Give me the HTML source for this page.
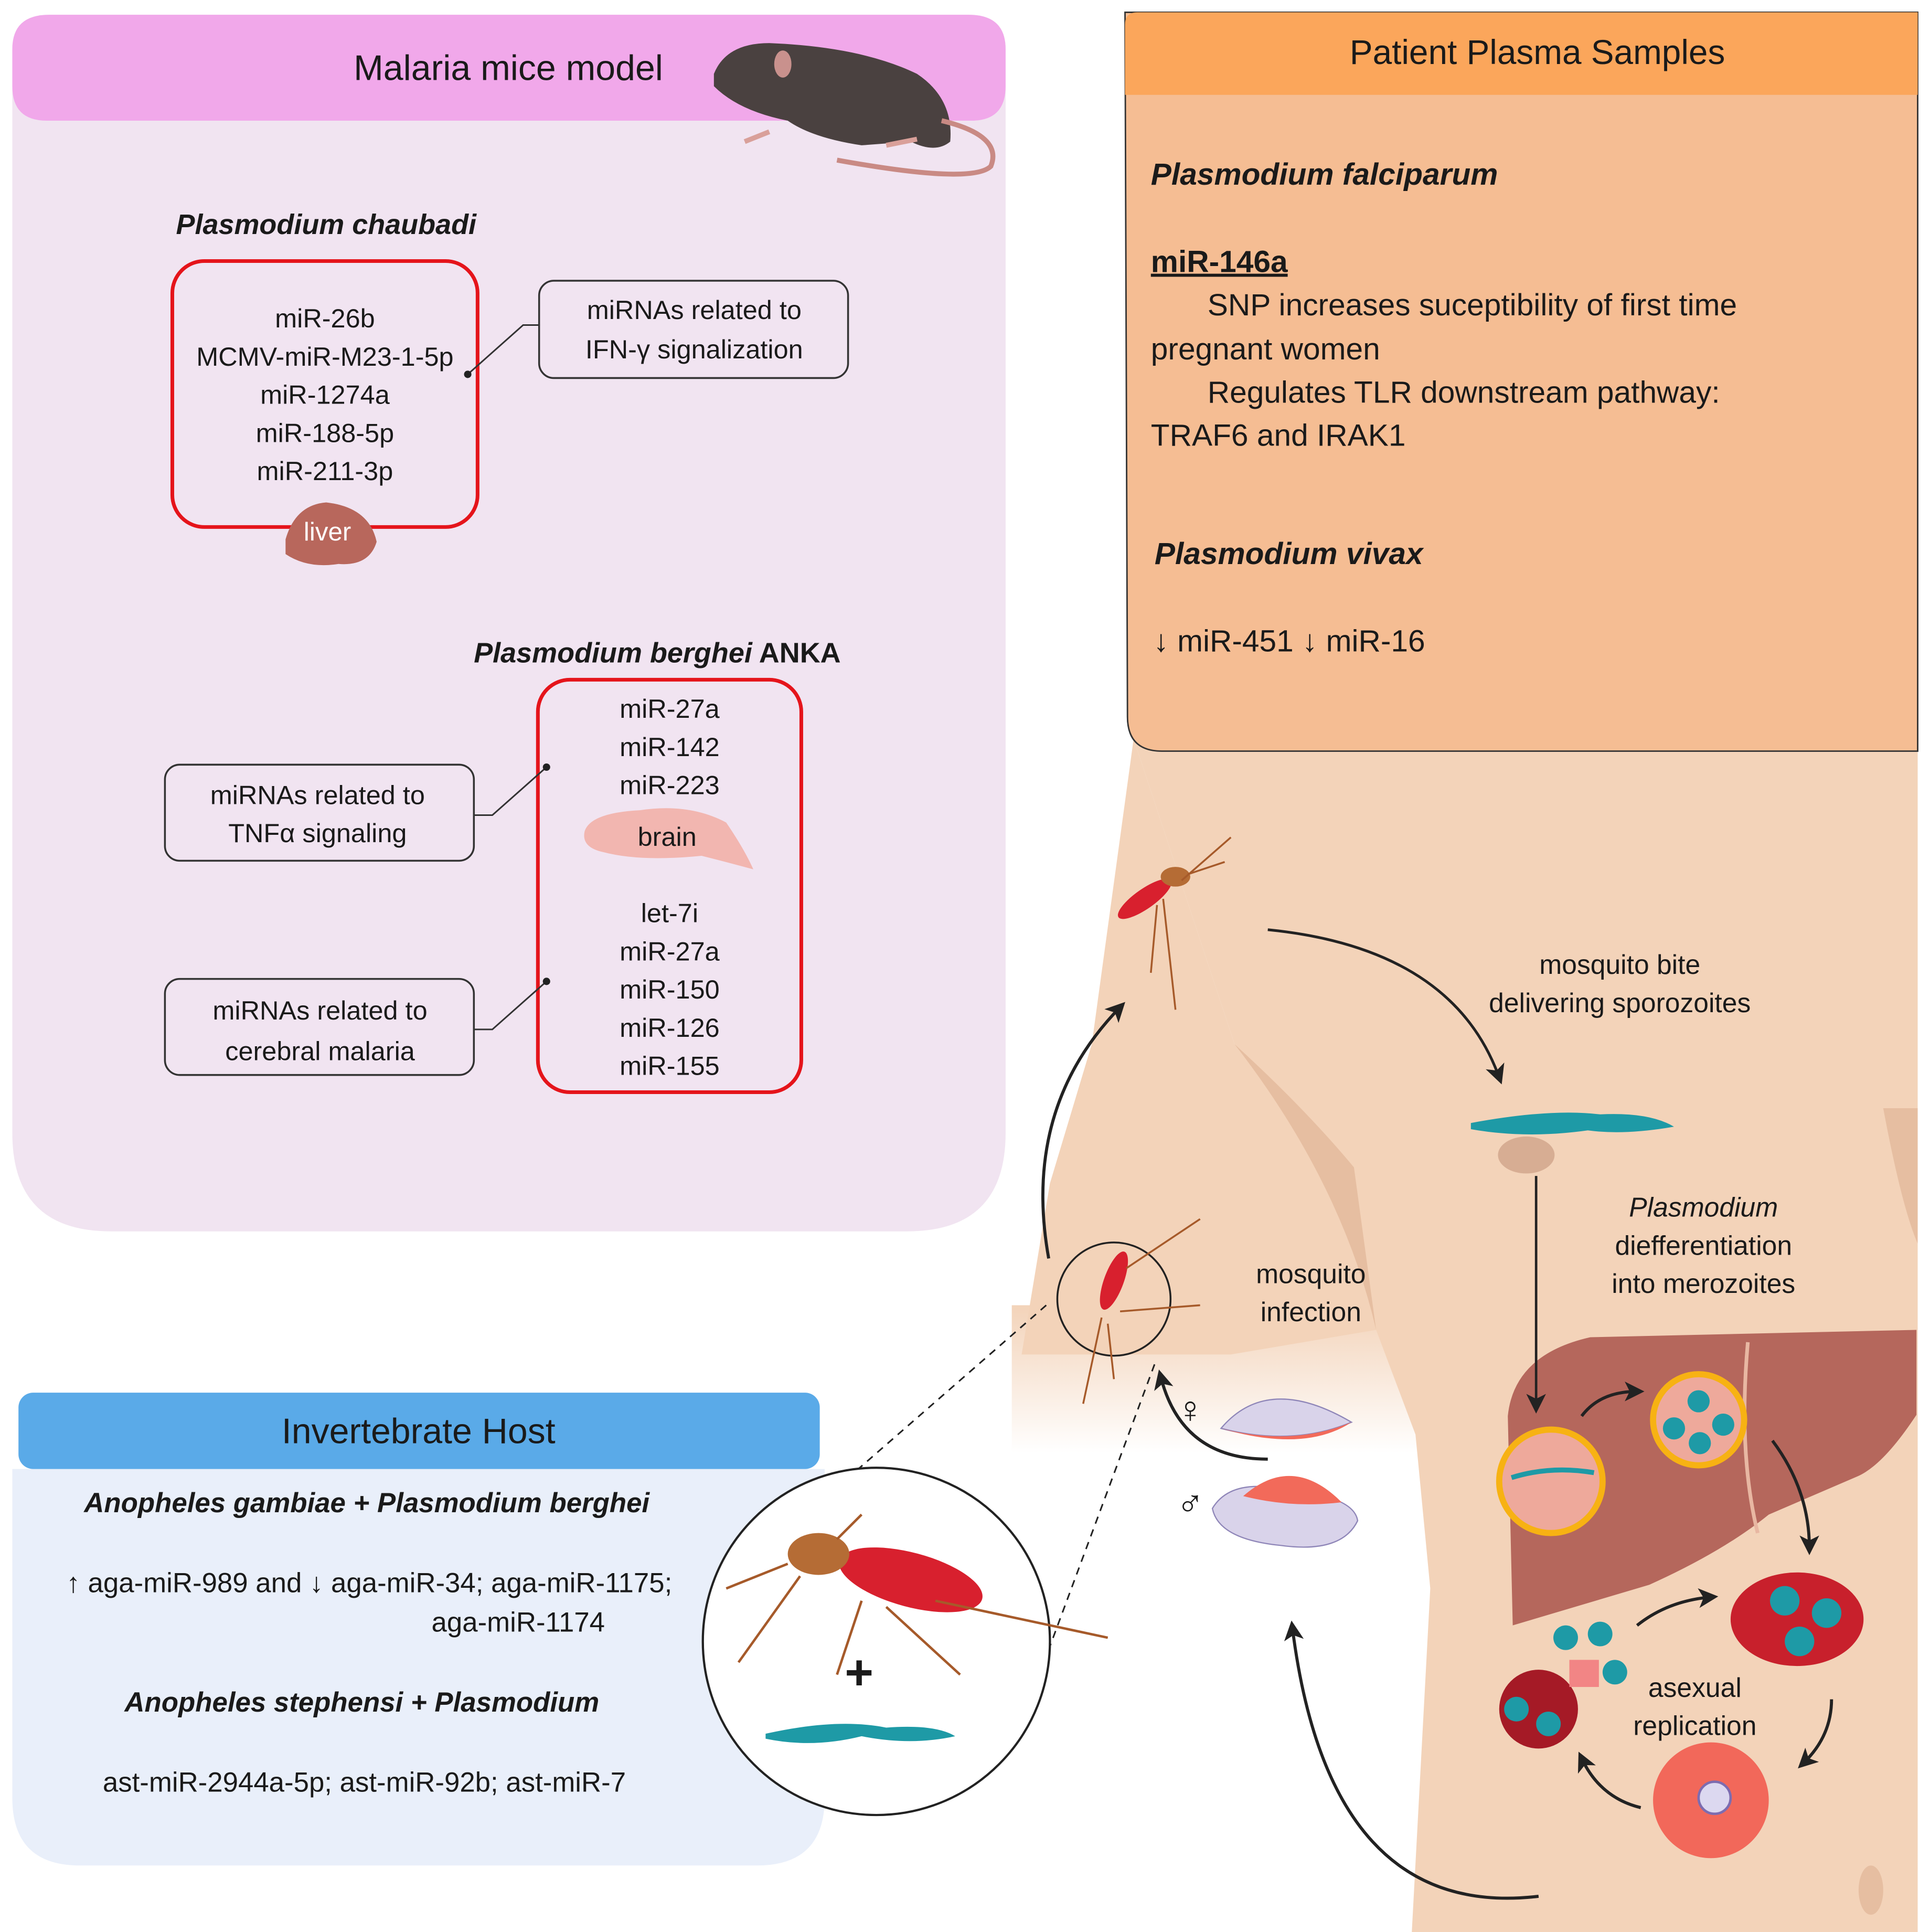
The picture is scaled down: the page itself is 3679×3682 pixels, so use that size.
<!DOCTYPE html>
<html><head><meta charset="utf-8"><style>
html,body{margin:0;padding:0;background:#fff;}
svg{display:block;}
text{font-family:"Liberation Sans",sans-serif;fill:#1a1a1a;}
</style></head><body>
<svg width="3679" height="3682" viewBox="0 0 1568 1569" preserveAspectRatio="none" xmlns="http://www.w3.org/2000/svg">
<defs>
<marker id="ab" markerWidth="16" markerHeight="16" refX="10" refY="8" orient="auto" markerUnits="userSpaceOnUse"><path d="M0,0 L16,8 L0,16 L4,8 Z" fill="#222"/></marker>
<linearGradient id="fade" x1="0" y1="0" x2="0" y2="1"><stop offset="0" stop-color="#f3d3b9"/><stop offset="1" stop-color="#f3d3b9" stop-opacity="0"/></linearGradient>
</defs>

<!-- body skin -->
<path d="M921,600 L1558,600 L1558,1569 L1147,1569 L1162,1290 L1150,1165 L1118,1080 L1100,1000 Q1030,900 1003,848 Z" fill="#f3d3b9"/>
<path d="M921,600 L1003,848 Q1060,940 1100,1000 L1118,1080 L1000,1100 L830,1100 L853,961 L887,848 Z" fill="#f3d3b9"/>
<rect x="822" y="1060" width="330" height="120" fill="url(#fade)"/>
<path d="M1003,848 Q1060,900 1100,948 L1118,1080 Q1090,960 1003,848 Z" fill="#e6bea1"/>
<path d="M1530,900 Q1545,980 1558,1010 L1558,900 Z" fill="#e6bea1"/>
<ellipse cx="1520" cy="1535" rx="10" ry="20" fill="#e6bea1"/>

<!-- Mice panel -->
<path d="M10,40 Q10,12 40,12 L787,12 Q817,12 817,40 L817,920 Q817,1000 737,1000 L90,1000 Q10,1000 10,920 Z" fill="#f1e4f1"/>
<path d="M10,40 Q10,12 40,12 L787,12 Q817,12 817,40 L817,70 Q817,98 789,98 L38,98 Q10,98 10,70 Z" fill="#f1a8ea"/>
<text x="413" y="65" font-size="29" text-anchor="middle">Malaria mice model</text>
<!-- mouse -->
<path d="M580,60 Q590,35 625,35 Q700,38 745,60 Q775,80 772,115 Q760,125 740,115 L700,118 Q660,112 640,98 Q600,90 580,70 Z" fill="#4a4140"/>
<ellipse cx="636" cy="52" rx="7" ry="11" fill="#c9918d"/>
<path d="M765,98 Q815,110 805,135 Q790,150 680,130" stroke="#c98a84" stroke-width="4" fill="none"/>
<path d="M605,115 l20,-8 M720,118 l25,-5" stroke="#d9a09a" stroke-width="4"/>

<text x="265" y="190" font-size="23" font-weight="bold" font-style="italic" text-anchor="middle">Plasmodium chaubadi</text>
<rect x="140" y="212" width="248" height="216" rx="26" fill="none" stroke="#e5141b" stroke-width="3"/>
<g font-size="21.5" text-anchor="middle">
<text x="264" y="266">miR-26b</text>
<text x="264" y="297">MCMV-miR-M23-1-5p</text>
<text x="264" y="328">miR-1274a</text>
<text x="264" y="359">miR-188-5p</text>
<text x="264" y="390">miR-211-3p</text>
</g>
<path d="M232,438 Q240,410 265,408 Q300,412 306,440 Q300,460 275,458 Q250,462 232,450 Z" fill="#b8675c"/>
<text x="266" y="439" font-size="21" text-anchor="middle" style="fill:#fff">liver</text>
<path d="M380,304 L425,264 L438,264" stroke="#333" stroke-width="1.3" fill="none"/><circle cx="380" cy="304" r="3" fill="#222"/>
<rect x="438" y="228" width="251" height="79" rx="12" fill="none" stroke="#333" stroke-width="1.5"/>
<text x="564" y="259" font-size="21.5" text-anchor="middle">miRNAs related to</text>
<text x="564" y="291" font-size="21.5" text-anchor="middle">IFN-γ signalization</text>

<text x="534" y="538" font-size="23" font-weight="bold" text-anchor="middle"><tspan font-style="italic">Plasmodium berghei</tspan> ANKA</text>
<rect x="437" y="552" width="214" height="335" rx="26" fill="none" stroke="#e5141b" stroke-width="3"/>
<g font-size="21.5" text-anchor="middle">
<text x="544" y="583">miR-27a</text>
<text x="544" y="614">miR-142</text>
<text x="544" y="645">miR-223</text>
<text x="544" y="749">let-7i</text>
<text x="544" y="780">miR-27a</text>
<text x="544" y="811">miR-150</text>
<text x="544" y="842">miR-126</text>
<text x="544" y="873">miR-155</text>
</g>
<path d="M475,675 Q480,660 520,658 Q560,652 590,668 Q605,690 612,706 Q590,700 570,695 Q520,700 490,692 Q472,688 475,675 Z" fill="#f2b6b0"/>
<text x="542" y="687" font-size="21.5" text-anchor="middle">brain</text>
<rect x="134" y="621" width="251" height="78" rx="12" fill="none" stroke="#333" stroke-width="1.5"/>
<text x="258" y="653" font-size="21.5" text-anchor="middle">miRNAs related to</text>
<text x="258" y="684" font-size="21.5" text-anchor="middle">TNFα signaling</text>
<path d="M385,662 L400,662 L444,623" stroke="#333" stroke-width="1.3" fill="none"/><circle cx="444" cy="623" r="3" fill="#222"/>
<rect x="134" y="795" width="251" height="78" rx="12" fill="none" stroke="#333" stroke-width="1.5"/>
<text x="260" y="828" font-size="21.5" text-anchor="middle">miRNAs related to</text>
<text x="260" y="861" font-size="21.5" text-anchor="middle">cerebral malaria</text>
<path d="M385,836 L400,836 L444,797" stroke="#333" stroke-width="1.3" fill="none"/><circle cx="444" cy="797" r="3" fill="#222"/>

<!-- Patient panel -->
<path d="M914,10 L1558,10 L1558,610 L944,610 Q916,610 916,582 Z" fill="#f5bd93" stroke="#333" stroke-width="1.2"/>
<path d="M924,10 L1558,10 L1558,77 L914,77 L914,20 Q914,10 924,10 Z" fill="#fba65b"/>
<text x="1249" y="52" font-size="28" text-anchor="middle">Patient Plasma Samples</text>
<text x="935" y="150" font-size="25" font-weight="bold" font-style="italic">Plasmodium falciparum</text>
<text x="935" y="221" font-size="25" font-weight="bold" text-decoration="underline">miR-146a</text>
<text x="981" y="256" font-size="25">SNP increases suceptibility of first time</text>
<text x="935" y="292" font-size="25">pregnant women</text>
<text x="981" y="327" font-size="25">Regulates TLR downstream pathway:</text>
<text x="935" y="362" font-size="25">TRAF6 and IRAK1</text>
<text x="938" y="458" font-size="25" font-weight="bold" font-style="italic">Plasmodium vivax</text>
<text x="937" y="529" font-size="25">↓ miR-451 ↓ miR-16</text>

<!-- Invertebrate panel -->
<path d="M10,1193 L670,1193 L670,1460 Q670,1515 615,1515 L65,1515 Q10,1515 10,1460 Z" fill="#e9effa"/>
<rect x="15" y="1131" width="651" height="62" rx="12" fill="#5aaae8"/>
<text x="340" y="1172" font-size="29" text-anchor="middle">Invertebrate Host</text>
<text x="298" y="1228" font-size="22.5" font-weight="bold" font-style="italic" text-anchor="middle">Anopheles gambiae + Plasmodium berghei</text>
<text x="300" y="1293" font-size="22.5" text-anchor="middle">↑ aga-miR-989 and ↓ aga-miR-34; aga-miR-1175;</text>
<text x="421" y="1325" font-size="22.5" text-anchor="middle">aga-miR-1174</text>
<text x="294" y="1390" font-size="22.5" font-weight="bold" font-style="italic" text-anchor="middle">Anopheles stephensi + Plasmodium</text>
<text x="296" y="1455" font-size="22.5" text-anchor="middle">ast-miR-2944a-5p; ast-miR-92b; ast-miR-7</text>

<!-- big circle with mosquito -->
<line x1="850" y1="1060" x2="695" y2="1195" stroke="#222" stroke-width="1.3" stroke-dasharray="6,5"/>
<line x1="938" y1="1108" x2="850" y2="1345" stroke="#222" stroke-width="1.3" stroke-dasharray="6,5"/>
<circle cx="712" cy="1333" r="141" fill="#fff" stroke="#222" stroke-width="1.8"/>
<ellipse cx="740" cy="1283" rx="60" ry="22" fill="#d8202e" transform="rotate(15 740 1283)"/>
<ellipse cx="665" cy="1262" rx="25" ry="17" fill="#b56c35"/>
<path d="M640,1270 L590,1290 M650,1280 L600,1350 M700,1300 L680,1360 M720,1305 L780,1360 M760,1300 L900,1330 M680,1250 L700,1230" stroke="#a65a2a" stroke-width="2" fill="none"/>
<text x="698" y="1372" font-size="40" font-weight="bold" text-anchor="middle">+</text>
<path d="M622,1408 Q680,1395 720,1403 Q760,1400 776,1410 Q740,1418 700,1410 Q660,1420 622,1412 Z" fill="#1e9aa6"/>

<!-- small circle mosquito -->
<circle cx="905" cy="1055" r="46" fill="none" stroke="#222" stroke-width="1.5"/>
<ellipse cx="905" cy="1040" rx="8" ry="25" fill="#d8202e" transform="rotate(20 905 1040)"/>
<path d="M895,1070 L880,1140 M910,1065 L975,1060 M915,1030 L975,990 M900,1075 L905,1120" stroke="#a65a2a" stroke-width="1.5" fill="none"/>
<!-- top mosquito -->
<ellipse cx="930" cy="730" rx="8" ry="26" fill="#d8202e" transform="rotate(55 930 730)"/>
<ellipse cx="955" cy="712" rx="12" ry="8" fill="#b56c35"/>
<path d="M945,730 L955,820 M960,715 L1000,680 M965,710 L995,700 M940,735 L935,790" stroke="#a65a2a" stroke-width="1.5" fill="none"/>

<!-- arrows -->
<path d="M852,1022 Q830,900 910,818" stroke="#222" stroke-width="2.5" fill="none" marker-end="url(#ab)"/>
<path d="M1030,755 Q1180,770 1218,875" stroke="#222" stroke-width="2.2" fill="none" marker-end="url(#ab)"/>
<path d="M1030,1185 Q960,1185 943,1118" stroke="#222" stroke-width="2.5" fill="none" marker-end="url(#ab)"/>
<path d="M1250,1540 Q1080,1560 1050,1322" stroke="#222" stroke-width="2.5" fill="none" marker-end="url(#ab)"/>

<text x="1065" y="1042" font-size="22" text-anchor="middle">mosquito</text>
<text x="1065" y="1073" font-size="22" text-anchor="middle">infection</text>
<text x="1316" y="791" font-size="22" text-anchor="middle">mosquito bite</text>
<text x="1316" y="822" font-size="22" text-anchor="middle">delivering sporozoites</text>
<text x="1384" y="988" font-size="22" font-style="italic" text-anchor="middle">Plasmodium</text>
<text x="1384" y="1019" font-size="22" text-anchor="middle">diefferentiation</text>
<text x="1384" y="1050" font-size="22" text-anchor="middle">into merozoites</text>

<!-- sporozoite -->
<ellipse cx="1240" cy="938" rx="23" ry="15" fill="#d7ad93"/>
<path d="M1195,912 Q1260,900 1300,905 Q1340,903 1360,915 Q1320,922 1290,918 Q1240,925 1195,917 Z" fill="#1e9aa6"/>

<!-- gametocytes -->
<path d="M992,1160 Q1030,1115 1098,1155 Q1050,1175 992,1160 Z" fill="#d9d3ea" stroke="#8f86b8"/>
<path d="M992,1160 Q1050,1175 1098,1155 Q1060,1180 992,1160 Z" fill="#f26a5a"/>
<path d="M985,1225 Q1000,1200 1045,1210 Q1100,1215 1103,1235 Q1090,1262 1040,1255 Q990,1250 985,1225 Z" fill="#d9d3ea" stroke="#8f86b8"/>
<path d="M1010,1215 Q1050,1180 1090,1220 Q1050,1225 1010,1215 Z" fill="#f26a5a"/>
<text x="967" y="1155" font-size="30" font-weight="bold" text-anchor="middle">♀</text>
<text x="967" y="1230" font-size="30" font-weight="bold" text-anchor="middle">♂</text>

<!-- liver -->
<path d="M1225,1150 Q1230,1100 1292,1086 L1557,1080 L1557,1149 Q1530,1190 1509,1199 L1437,1230 Q1400,1260 1340,1287 L1229,1320 Z" fill="#b5675c"/>
<path d="M1420,1090 Q1412,1180 1428,1245" stroke="#e8b7a2" stroke-width="3" fill="none"/>
<line x1="1248" y1="955" x2="1248" y2="1142" stroke="#222" stroke-width="2" marker-end="url(#ab)"/>
<circle cx="1260" cy="1203" r="42" fill="#eea99b" stroke="#f7b213" stroke-width="5"/>
<path d="M1228,1200 Q1260,1190 1295,1196" stroke="#1e9aa6" stroke-width="4" fill="none"/>
<circle cx="1380" cy="1153" r="37" fill="#eea99b" stroke="#f7b213" stroke-width="5"/>
<g fill="#1e9aa6"><circle cx="1380" cy="1138" r="9"/><circle cx="1360" cy="1160" r="9"/><circle cx="1400" cy="1157" r="9"/><circle cx="1381" cy="1172" r="9"/></g>
<path d="M1285,1150 Q1300,1130 1330,1130" stroke="#222" stroke-width="2.5" fill="none" marker-end="url(#ab)"/>
<path d="M1440,1170 Q1470,1210 1470,1257" stroke="#222" stroke-width="2.5" fill="none" marker-end="url(#ab)"/>

<!-- RBCs -->
<ellipse cx="1460" cy="1315" rx="54" ry="38" fill="#c8202c"/>
<g fill="#1e9aa6"><circle cx="1450" cy="1300" r="12"/><circle cx="1484" cy="1310" r="12"/><circle cx="1462" cy="1333" r="12"/></g>
<circle cx="1250" cy="1388" r="32" fill="#a51a26"/>
<g fill="#1e9aa6"><circle cx="1232" cy="1388" r="10"/><circle cx="1258" cy="1400" r="10"/><circle cx="1272" cy="1330" r="10"/><circle cx="1300" cy="1327" r="10"/><circle cx="1312" cy="1358" r="10"/></g>
<rect x="1275" y="1348" width="24" height="22" fill="#f28585"/>
<circle cx="1390" cy="1462" r="47" fill="#f2685a"/>
<circle cx="1393" cy="1460" r="13" fill="#dcd8f0" stroke="#7d6cb0" stroke-width="2"/>
<text x="1377" y="1378" font-size="22" text-anchor="middle">asexual</text>
<text x="1377" y="1409" font-size="22" text-anchor="middle">replication</text>
<path d="M1330,1320 Q1355,1300 1390,1297" stroke="#222" stroke-width="2.5" fill="none" marker-end="url(#ab)"/>
<path d="M1488,1380 Q1488,1410 1465,1432" stroke="#222" stroke-width="2.5" fill="none" marker-end="url(#ab)"/>
<path d="M1333,1468 Q1300,1460 1285,1428" stroke="#222" stroke-width="2.5" fill="none" marker-end="url(#ab)"/>
</svg>
</body></html>
